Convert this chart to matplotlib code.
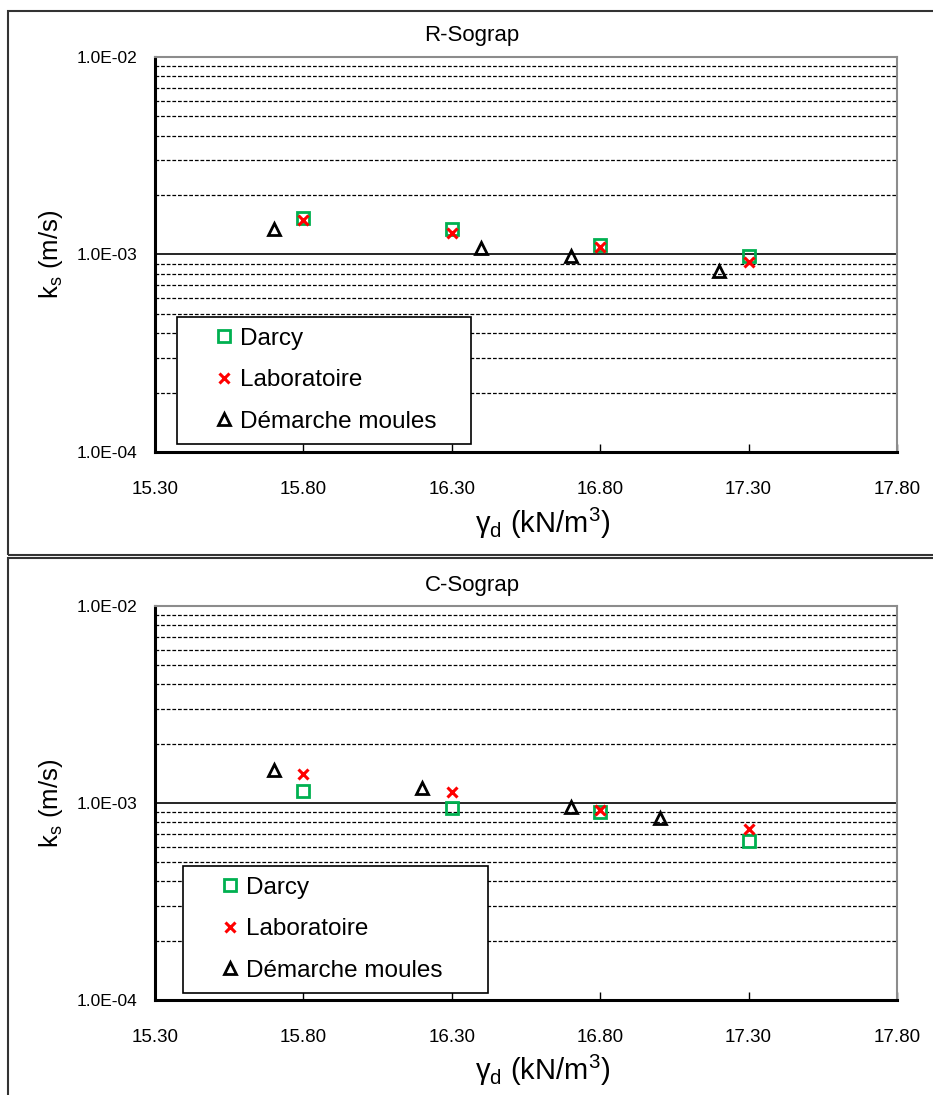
import matplotlib.pyplot as plt
from matplotlib.patches import Rectangle
from matplotlib.ticker import FixedLocator, FuncFormatter, NullFormatter

plt.rcParams['font.family'] = ['Liberation Sans', 'DejaVu Sans']

# R-Sograp
r_darcy_x = [15.80, 16.30, 16.80, 17.30]
r_darcy_k = [1.53e-3, 1.35e-3, 1.12e-3, 0.977e-3]
r_labo_x = [15.80, 16.30, 16.80, 17.30]
r_labo_k = [1.50e-3, 1.28e-3, 1.09e-3, 0.911e-3]
r_moules_x = [15.70, 16.40, 16.70, 17.20]
r_moules_k = [1.35e-3, 1.085e-3, 0.985e-3, 0.827e-3]

# C-Sograp
c_darcy_x = [15.80, 16.30, 16.80, 17.30]
c_darcy_k = [1.157e-3, 0.946e-3, 0.899e-3, 0.641e-3]
c_labo_x = [15.80, 16.30, 16.80, 17.30]
c_labo_k = [1.40e-3, 1.139e-3, 0.917e-3, 0.739e-3]
c_moules_x = [15.70, 16.20, 16.70, 17.00]
c_moules_k = [1.47e-3, 1.194e-3, 0.958e-3, 0.841e-3]

xticks = [15.30, 15.80, 16.30, 16.80, 17.30, 17.80]
yticks = [1e-4, 1e-3, 1e-2]
ytick_labels = {1e-4: '1.0E-04', 1e-3: '1.0E-03', 1e-2: '1.0E-02'}
minor_levels = [m * 1e-4 for m in range(2, 10)] + [m * 1e-3 for m in range(2, 10)]

W, H = 933, 1095
fig = plt.figure(figsize=(W / 100, H / 100), dpi=100)


def px_axes(left, top, right, bottom):
    return fig.add_axes([left / W, 1 - bottom / H, (right - left) / W, (bottom - top) / H])


def panel(ax, title, title_y, xd, kd, xl, kl, xm, km, legend_box):
    ax.set_yscale('log')
    ax.set_xlim(15.30, 17.80)
    ax.set_ylim(1e-4, 1e-2)

    for lvl in minor_levels:
        ax.axhline(lvl, color='black', lw=0.9, ls=(0, (3, 1.5)), zorder=1)
    ax.axhline(1e-3, color='black', lw=1.2, zorder=1)

    ax.plot(xd, kd, ls='none', marker='s', ms=9, mfc='none', mec='#00B050', mew=2,
            label='Darcy', zorder=3)
    ax.plot(xl, kl, ls='none', marker='x', ms=6.5, mec='#FF0000', mew=2.2,
            label='Laboratoire', zorder=4)
    ax.plot(xm, km, ls='none', marker='^', ms=8, mfc='none', mec='black', mew=2,
            label='Démarche moules', zorder=3)

    ax.yaxis.set_major_locator(FixedLocator(yticks))
    ax.yaxis.set_major_formatter(FuncFormatter(lambda v, p: ytick_labels.get(v, '')))
    ax.yaxis.set_minor_locator(FixedLocator([]))
    ax.yaxis.set_minor_formatter(NullFormatter())
    ax.tick_params(axis='y', length=0, pad=13, labelsize=12.5)

    ax.set_xticks(xticks)
    ax.set_xticklabels(['%.2f' % v for v in xticks])
    ax.tick_params(axis='x', direction='in', length=6, width=1, pad=21, labelsize=13.5)

    for s in ['left', 'bottom']:
        ax.spines[s].set_linewidth(2.2)
        ax.spines[s].set_color('black')
    for s in ['top', 'right']:
        ax.spines[s].set_linewidth(1.5)
        ax.spines[s].set_color('#8c8c8c')

    ax.set_ylabel('k$_\\mathregular{s}$ (m/s)', fontsize=18.5, labelpad=8)
    ax.set_xlabel('γ$_\\mathregular{d}$ (kN/m$^\\mathregular{3}$)', fontsize=21)
    ax.xaxis.set_label_coords(0.523, -0.135)

    fig.text(0.506, 1 - (title_y + 2) / H, title, ha='center', va='center', fontsize=16)

    leg = ax.legend(loc='upper left', bbox_to_anchor=legend_box, mode='expand', fontsize=17.5,
                    frameon=True, fancybox=False, framealpha=1, borderpad=0.45, handlelength=3.0,
                    handletextpad=-0.85, labelspacing=0.8, borderaxespad=0)
    leg.get_frame().set_edgecolor('black')
    leg.get_frame().set_linewidth(1.2)


ax1 = px_axes(155, 57, 897, 452)
ax2 = px_axes(155, 606, 897, 1000)

panel(ax1, 'R-Sograp', 33, r_darcy_x, r_darcy_k, r_labo_x, r_labo_k, r_moules_x, r_moules_k,
      ((177 - 155) / 742, (452 - 440) / 395, (471 - 177) / 742, (440 - 317) / 395))
panel(ax2, 'C-Sograp', 583, c_darcy_x, c_darcy_k, c_labo_x, c_labo_k, c_moules_x, c_moules_k,
      ((183 - 155) / 742, (1000 - 987) / 394, (488 - 183) / 742, (987 - 866) / 394))

# outer frames of the two panels
fig.patches.append(Rectangle((8 / W, 1 - 555 / H), 1.0, (555 - 11) / H, transform=fig.transFigure,
                             fill=False, edgecolor='#333333', lw=1.5))
fig.patches.append(Rectangle((8 / W, -0.05), 1.0, 0.05 + (1095 - 558) / H, transform=fig.transFigure,
                             fill=False, edgecolor='#333333', lw=1.5))

plt.savefig('out.png', dpi=100)
